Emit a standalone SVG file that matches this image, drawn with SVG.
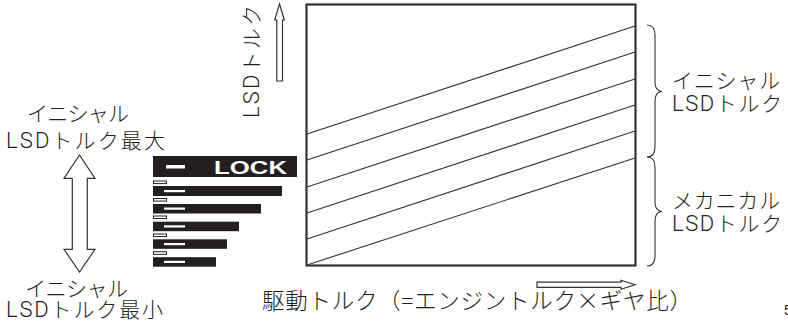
<svg xmlns="http://www.w3.org/2000/svg" width="788" height="327" viewBox="0 0 788 327">
<defs>
<style>
.t{font-family:"Noto Sans CJK JP","Liberation Sans",sans-serif;font-size:21px;font-weight:300;fill:#231f20;}
.l{font-family:Roboto,"Liberation Sans",Arial,sans-serif;font-weight:300;font-size:22px;}
.ar{fill:#fff;stroke:#333;stroke-width:1.2;stroke-linejoin:miter;}
.ln{stroke:#333;stroke-width:1.1;fill:none;}
.br{stroke:#333;stroke-width:1.1;fill:none;}
.bar{fill:#231f20;}
.dash{fill:#fff;}
.sm{fill:#fff;stroke:#231f20;stroke-width:1;}
</style>
</defs>
<rect width="788" height="327" fill="#fff"/>

<g id="chart">
<rect x="306.5" y="4.5" width="329" height="261" fill="none" stroke="#333" stroke-width="2.2"/>
</g>

<g id="connectors">
<line class="ln" x1="307" y1="134" x2="635" y2="26"/>
<line class="ln" x1="307" y1="160" x2="635" y2="52"/>
<line class="ln" x1="307" y1="187" x2="635" y2="79"/>
<line class="ln" x1="307" y1="213" x2="635" y2="105"/>
<line class="ln" x1="307" y1="239" x2="635" y2="131"/>
<line class="ln" x1="307" y1="265" x2="635" y2="158"/>
</g>

<g id="y-axis">
<polygon class="ar" points="279.5,4 284.3,20 282.5,20 282.5,81 276.8,81 276.8,20 274.7,20"/>
<text class="t" x="259" y="118" transform="rotate(-90 259 118)" textLength="113"><tspan class="l">LSD</tspan>トルク</text>
</g>

<g id="x-axis">
<polygon class="ar" points="537,282.2 621,282.2 621,280.3 635,284.8 621,289.3 621,287.4 537,287.4"/>
<text class="t" x="262" y="309" style="font-size:22.5px" textLength="430">駆動トルク（=エンジントルク×ギヤ比）</text>
</g>

<g id="brace-initial">
<path class="br" d="M647,25 Q655,25 655,35 L655,82 Q655,91 662,91.5 Q655,92 655,101 L655,147 Q655,157 647,157"/>
<text class="t" x="672" y="88" textLength="108">イニシャル</text>
<text class="t" x="672" y="111" textLength="110"><tspan class="l">LSD</tspan>トルク</text>
</g>

<g id="brace-mechanical">
<path class="br" d="M647,157 Q655,157 655,167 L655,202 Q655,211 662,211.5 Q655,212 655,221 L655,256 Q655,266 647,266"/>
<text class="t" x="672" y="208" textLength="108">メカニカル</text>
<text class="t" x="672" y="231" textLength="110"><tspan class="l">LSD</tspan>トルク</text>
</g>

<g id="range-arrow">
<polygon class="ar" points="79.5,155 95,178.3 87.3,178.3 87.3,249.3 95,249.3 79.5,272 64,249.3 72.3,249.3 72.3,178.3 64,178.3"/>
</g>

<g id="label-max">
<text class="t" x="27" y="121" textLength="102">イニシャル</text>
<text class="t" x="6" y="148" textLength="159"><tspan class="l">LSD</tspan>トルク最大</text>
</g>

<g id="label-min">
<text class="t" x="25" y="296" textLength="103">イニシャル</text>
<text class="t" x="6" y="317" textLength="157"><tspan class="l">LSD</tspan>トルク最小</text>
</g>

<g id="lock-indicator">
<rect class="bar" x="153" y="156" width="144" height="21"/>
<rect class="dash" x="166" y="165" width="19" height="3.5"/>
<text x="214" y="174" textLength="73" lengthAdjust="spacingAndGlyphs" style="font-family:'Liberation Sans',Arial,sans-serif;font-weight:bold;font-size:18px;fill:#fff">LOCK</text>

<rect class="sm" x="153.5" y="181" width="13" height="2.6"/>
<rect class="bar" x="153" y="186" width="129" height="10"/>
<rect class="dash" x="164" y="190" width="21" height="2.2"/>

<rect class="sm" x="153.5" y="198.5" width="13" height="2.6"/>
<rect class="bar" x="153" y="204" width="108" height="9.5"/>
<rect class="dash" x="164" y="207.5" width="21" height="2.2"/>

<rect class="sm" x="153.5" y="216" width="13" height="2.6"/>
<rect class="bar" x="153" y="221.7" width="86" height="9.5"/>
<rect class="dash" x="164" y="225.3" width="21" height="2.2"/>

<rect class="sm" x="153.5" y="234" width="13" height="2.6"/>
<rect class="bar" x="153" y="239.3" width="74" height="9.5"/>
<rect class="dash" x="164" y="243" width="21" height="2.2"/>

<rect class="sm" x="153.5" y="251.7" width="13" height="2.6"/>
<rect class="bar" x="153" y="257.2" width="63" height="9.5"/>
<rect class="dash" x="164" y="260.8" width="21" height="2.2"/>
</g>

<text x="784" y="315" style="font-family:'Liberation Sans',sans-serif;font-size:14px;fill:#231f20">5</text>
</svg>
